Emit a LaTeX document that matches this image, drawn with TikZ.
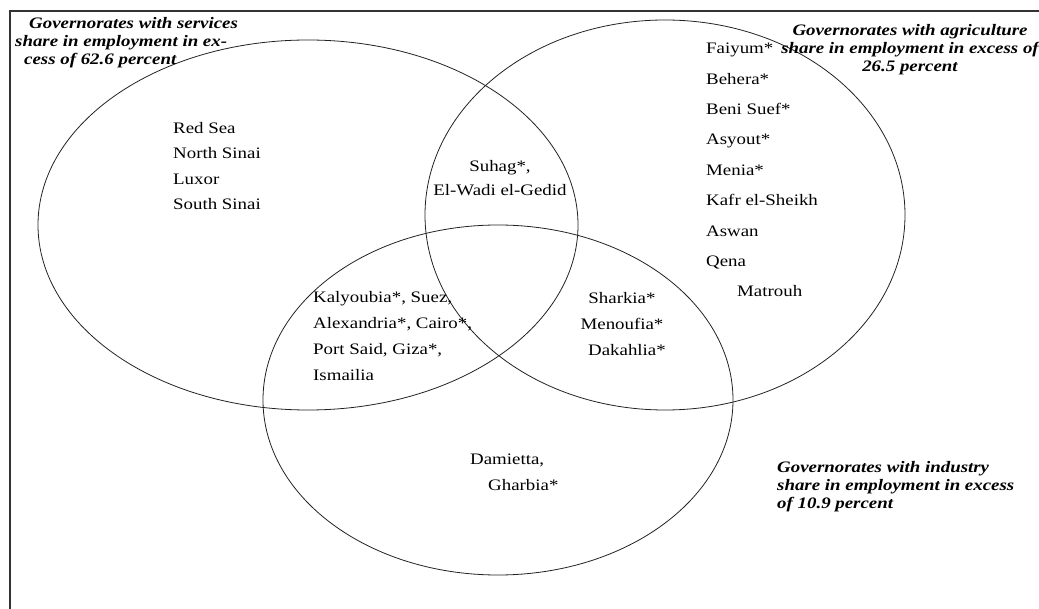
\documentclass[tikz,border=0pt]{standalone}
\usepackage{fontspec}
\setmainfont{Liberation Serif}[FakeStretch=1.18]
\usetikzlibrary{shapes.geometric}
\definecolor{colFrame}{HTML}{333333}
\definecolor{colRing}{HTML}{222222}
\tikzset{
  setring/.style={draw=colRing, ellipse, line width=0.8pt, inner sep=0pt},
  settitle/.style={font=\fontsize{16pt}{18.3pt}\selectfont\bfseries\itshape, inner sep=0pt},
  member/.style={font=\fontsize{16pt}{25.5pt}\selectfont, inner sep=0pt},
  frameline/.style={draw=colFrame, line width=1.4pt}
}

\begin{document}
\begin{tikzpicture}[x=1pt,y=-1pt]
  \useasboundingbox (0,0) rectangle (1039,609);
  % frame, only top and left edges show
  \coordinate (fbl) at (10,609);
  \coordinate (ftl) at (10,11);
  \coordinate (ftr) at (1039,11);
  \draw[frameline] (fbl) -- (ftl) -- (ftr);

  % the three sets
  \node[setring, minimum width=540pt, minimum height=370pt] (serv) at (308,225) {};
  \node[setring, minimum width=480pt, minimum height=390pt] (agri) at (665,215) {};
  \node[setring, minimum width=470pt, minimum height=350pt] (indu) at (498,400) {};

  % set titles
  \node[settitle, anchor=north west, align=left] (servtitle) at (15,17)
    {\hspace{14pt}Governorates with services\\share in employment in ex-\\\hspace{9pt}cess of 62.6 percent};
  \node[settitle, anchor=north, align=center] (agrititle) at (910,24)
    {Governorates with agriculture\\share in employment in excess of\\26.5 percent};
  \node[settitle, anchor=north west, align=left] (indutitle) at (777,461)
    {Governorates with industry\\share in employment in excess\\of 10.9 percent};

  % members
  \node[member, anchor=north west, align=left] (servonly) at (173,122)
    {Red Sea\\North Sinai\\Luxor\\South Sinai};
  \node[member, anchor=north, align=center, font=\fontsize{16pt}{24pt}\selectfont] (servagri) at (500,160)
    {Suhag*,\\El-Wadi el-Gedid};
  \node[member, anchor=north west, align=left, font=\fontsize{16pt}{30.4pt}\selectfont] (agrionly) at (706,43)
    {Faiyum*\\Behera*\\Beni Suef*\\Asyout*\\Menia*\\Kafr el-Sheikh\\Aswan\\Qena\\\hspace{31pt}Matrouh};
  \node[member, anchor=north west, align=left, font=\fontsize{16pt}{26pt}\selectfont] (servindu) at (313,291)
    {Kalyoubia*, Suez,\\Alexandria*, Cairo*,\\Port Said, Giza*,\\Ismailia};
  \node[member, anchor=north, align=center, font=\fontsize{16pt}{26pt}\selectfont] (agriindu) at (622,292)
    {Sharkia*\\Menoufia*\\\hspace{10pt}Dakahlia*};
  \node[member, anchor=north west, align=left, font=\fontsize{16pt}{26pt}\selectfont] (induonly) at (470,454)
    {Damietta,\\\hspace{18pt}Gharbia*};
\end{tikzpicture}
\end{document}
